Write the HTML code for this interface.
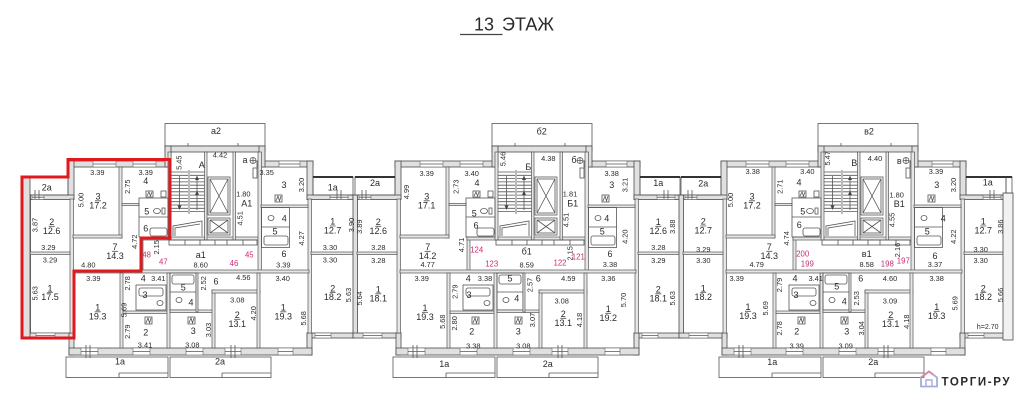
<!DOCTYPE html>
<html><head><meta charset="utf-8">
<style>
html,body{margin:0;padding:0;background:#fff;}
svg{display:block;}
.w{fill:#e0e0e0;stroke:#4a4a4a;stroke-width:.8}
.iw{fill:#e6e6e6;stroke:#555;stroke-width:.7}
.t{fill:none;stroke:#555;stroke-width:.8}
.win{fill:#fff;stroke:#666;stroke-width:.6}
text{font-family:"Liberation Sans",Arial,sans-serif;fill:#2a2a2a;}
.d{font-size:7.4px;text-anchor:middle}
.a{font-size:9px;text-anchor:middle}
.p{font-size:7.8px;text-anchor:middle;fill:#cc2a78}
</style></head>
<body>
<svg width="1024" height="402" viewBox="0 0 1024 402" xmlns="http://www.w3.org/2000/svg">
<defs>
<g id="sec">
 <rect class="t" x="0" y="123.5" width="100" height="22.5"/>
 <path class="t" d="M23 143V150M73 143V150"/>
 <rect class="w" x="0" y="146" width="100" height="6"/>
 <rect class="w" x="-97" y="161" width="103" height="6"/>
 <rect class="w" x="92" y="161" width="56" height="6"/>
 <rect class="w" x="0" y="146" width="6" height="21"/>
 <rect class="w" x="94" y="146" width="6" height="21"/>
 <rect class="w" x="-97" y="161" width="6" height="38"/>
 <rect class="w" x="142" y="161" width="6" height="38"/>
 <rect class="w" x="-139" y="195" width="48" height="4.5"/>
 <rect class="w" x="142" y="195" width="48" height="4.5"/>
 <rect class="w" x="-139" y="195" width="4.5" height="142.5"/>
 <rect class="w" x="-139" y="333" width="48" height="5"/>
 <rect class="w" x="142" y="333" width="48" height="5"/>
 <rect class="w" x="-96" y="333" width="5" height="22"/>
 <rect class="w" x="142" y="333" width="5" height="22"/>
 <rect class="w" x="-96" y="348" width="243" height="7"/>
 <rect class="iw" x="-95" y="199" width="3.5" height="134"/>
 <rect class="iw" x="143" y="199" width="3.5" height="134"/>
 <rect class="iw" x="-135" y="252" width="40" height="2.5"/>
 <rect class="iw" x="146" y="252" width="42" height="2.5"/>
 <rect class="iw" x="-46" y="167" width="3" height="71"/>
 <rect class="iw" x="-92" y="235" width="49" height="3"/>
 <rect class="iw" x="-25" y="237" width="3" height="35"/>
 <rect class="iw" x="-25" y="237" width="121" height="3"/>
 <rect class="iw" x="3" y="152" width="3" height="88"/>
 <rect class="iw" x="39.5" y="152" width="2.5" height="88"/>
 <rect class="iw" x="68" y="152" width="2.5" height="88"/>
 <rect class="iw" x="93" y="152" width="3.5" height="120"/>
 <rect class="iw" x="-92" y="270" width="236" height="3"/>
 <rect class="iw" x="-43" y="203.5" width="17" height="2"/>
 <rect class="t" x="-26" y="198" width="29" height="39"/>
 <path class="t" d="M-26 217H3"/>
 <rect class="iw" x="96" y="205" width="47" height="2.5"/>
 <rect class="t" x="96.5" y="207.5" width="28" height="40"/>
 <path class="t" d="M96.5 227H124.5"/>
 <rect class="iw" x="-45" y="273" width="3" height="75"/>
 <rect class="t" x="-29" y="285" width="30" height="25"/>
 <rect class="iw" x="-42" y="311" width="45" height="2.5"/>
 <rect class="iw" x="2" y="273" width="3" height="75"/>
 <rect class="t" x="5" y="273" width="26" height="37"/>
 <path class="t" d="M5 292H31"/>
 <rect class="iw" x="5" y="310" width="43" height="2.5"/>
 <rect class="iw" x="31" y="273" width="2" height="39"/>
 <rect class="iw" x="47" y="290" width="3" height="58"/>
 <rect class="iw" x="47" y="290" width="48" height="3"/>
 <rect class="iw" x="92" y="273" width="3" height="75"/>
 <g class="win">
  <rect x="-72" y="161" width="23" height="6"/><rect x="-32" y="161" width="23" height="6"/><rect x="114" y="161" width="21" height="6"/>
  <rect x="-133" y="195" width="12" height="4.5"/><rect x="165" y="195" width="18" height="4.5"/>
  <rect x="-84" y="348" width="17" height="7"/><rect x="-32" y="348" width="17" height="7"/><rect x="21" y="348" width="17" height="7"/><rect x="60" y="348" width="16" height="7"/><rect x="113" y="348" width="15" height="7"/>
  <rect x="-129" y="333" width="19" height="5"/><rect x="150" y="333" width="16" height="5"/>
 </g>
 <path class="t" d="M-72 164H-49M-32 164H-9M114 164H135M-133 197.2H-121M165 197.2H183M-84 351.5H-67M-32 351.5H-15M21 351.5H38M60 351.5H76M113 351.5H128M-129 335.5H-110M150 335.5H166"/>
 <path class="t" d="M-79 345V358M-75 345V358M66 345V358M70 345V358"/>
 <rect class="t" x="-137" y="177" width="40" height="18"/>
 <rect x="-137" y="176" width="40" height="2" fill="#333"/>
 <rect class="t" x="148" y="177" width="40" height="18"/>
 <rect x="148" y="176" width="40" height="2" fill="#333"/>
 <path class="t" d="M-130 190V199M-126 190V199M172 190V199M176 190V199"/>
 <rect class="t" x="-99" y="357" width="102" height="20.5"/>
 <rect class="t" x="5" y="357" width="101" height="20.5"/>
 <path class="t" d="M-46 373H3M-46 373V377.5M57 373H106M57 373V377.5"/>
 <path class="t" d="M6 172H23M6 175.3H23M6 178.6H23M6 181.9H23M6 185.2H23M6 188.5H23M6 191.8H23M6 195.1H23M6 198.4H23M6 201.7H23M6 205H23M6 208.3H23M6 211.6H23M25 172H39.5M25 175.3H39.5M25 178.6H39.5M25 181.9H39.5M25 185.2H39.5M25 188.5H39.5M25 191.8H39.5M25 195.1H39.5M25 198.4H39.5M25 201.7H39.5M25 205H39.5M25 208.3H39.5M25 211.6H39.5M24 170V214"/>
 <path class="t" d="M14.5 176V209M32 178V210"/>
 <path d="M12.5 205.5L16.5 205.5L14.5 210Z M30 180L34 180L32 175.5Z M30 195L34 195L32 190.5Z" fill="#444"/>
 <path class="t" d="M8 236V226L37 221V236M10 236V228L35 224"/>
 <rect class="t" x="43" y="177" width="22" height="38"/>
 <rect class="t" x="45" y="179" width="18" height="34"/>
 <path class="t" d="M45 179L63 213M63 179L45 213"/>
 <rect class="t" x="43" y="218" width="22" height="17"/>
 <rect class="t" x="45" y="220" width="18" height="13"/>
 <path class="t" d="M45 220L63 233M63 220L45 233"/>
 <rect class="t" x="4" y="240" width="88" height="5"/>
 <path class="t" d="M20 240V245M35 240V245M50 240V245M62 240V245M78 240V245"/>
 <circle class="t" cx="88" cy="160.5" r="3"/>
 <path class="t" d="M85 160.5H91M88 157.5V163.5"/>
 <rect class="t" x="88" y="168" width="4" height="10"/>
 <rect class="t" x="-19" y="191" width="7" height="6"/>
 <path class="t" d="M-18 196L-16 192L-14.5 196L-13 192"/>
 <rect class="t" x="-4" y="191" width="5" height="6"/>
 <ellipse class="t" cx="-8" cy="211" rx="3.5" ry="2.5"/>
 <rect class="t" x="-3" y="208" width="3" height="6"/>
 <rect class="t" x="-15" y="228" width="17" height="8" rx="2"/>
 <rect class="t" x="110" y="195" width="7" height="7"/>
 <path class="t" d="M111 201L113 196L114.5 201L116 196"/>
 <ellipse class="t" cx="106" cy="218" rx="3" ry="2.5"/>
 <rect class="t" x="99" y="236" width="24" height="9" rx="2"/>
 <rect class="t" x="-26" y="288" width="24" height="8" rx="2"/>
 <ellipse class="t" cx="-5" cy="303" rx="3" ry="2.5"/>
 <rect class="t" x="-20" y="317" width="7" height="7"/>
 <path class="t" d="M-19 323L-17 318L-15.5 323L-14 318"/>
 <rect class="t" x="7" y="275" width="22" height="9" rx="2"/>
 <ellipse class="t" cx="14" cy="300" rx="3" ry="2.5"/>
 <rect class="t" x="23" y="317" width="7" height="7"/>
 <path class="t" d="M24 323L26 318L27.5 323L29 318"/>
</g>
</defs>

<line x1="460" y1="34.5" x2="502.5" y2="34.5" stroke="#444" stroke-width="1.2"/>
<text x="474" y="30.5" font-size="18">13</text>
<text x="502" y="30.5" font-size="18">ЭТАЖ</text>

<use href="#sec" x="165" y="0"/>
<use href="#sec" x="492" y="0"/>
<use href="#sec" x="818" y="0"/>

<rect class="w" x="22" y="177" width="8" height="161"/>
<path class="t" d="M22 177H29"/>
<rect x="1003" y="193" width="10" height="147" fill="#f2f2f2" stroke="#4a4a4a" stroke-width=".8"/>
<rect class="t" x="1006" y="177" width="6" height="16"/>
<rect x="1006" y="176" width="6" height="2" fill="#333"/>

<!-- SECTION A texts -->
<g>
<text class="d" x="97.3" y="175.2">3.39</text>
<text class="d" x="145.7" y="175.2">3.39</text>
<text class="d" x="88.3" y="267.5">4.80</text>
<text class="d" x="48.3" y="249.8">3.29</text>
<text class="d" x="50" y="262.5">3.29</text>
<text class="d" x="93.3" y="280.8">3.39</text>
<text class="d" x="158.3" y="280.8">3.41</text>
<text class="d" x="145" y="347.5">3.41</text>
<text class="d" x="220" y="157.5">4.42</text>
<text class="d" x="243.3" y="196.5">1.80</text>
<text class="d" x="200.7" y="267.5">8.60</text>
<text class="d" x="266.7" y="175.2">3.35</text>
<text class="d" x="283.3" y="267.5">3.39</text>
<text class="d" x="330" y="250.2">3.30</text>
<text class="d" x="330" y="262.5">3.30</text>
<text class="d" x="243.3" y="279.8">4.56</text>
<text class="d" x="192.3" y="347.5">3.08</text>
<text class="d" x="237.3" y="302.5">3.08</text>
<text class="d" x="282.7" y="280.8">3.40</text>

<text class="a" x="46.7" y="190.3">2а</text>
<text class="a" x="145.7" y="184">4</text>
<text class="a" x="146.7" y="214.7">5</text>
<text class="a" x="145.7" y="231.3">6</text>
<text class="a" x="143.3" y="281.3">4</text>
<text class="a" x="145" y="298">3</text>
<text class="a" x="145.7" y="335.7">2</text>
<text class="a" x="120" y="364.7">1а</text>
<text class="a" x="216" y="134">а2</text>
<text class="a" x="201.7" y="168">А</text>
<text class="a" x="245" y="163">а</text>
<text class="a" x="246.7" y="206.3">А1</text>
<text class="a" x="284" y="188">3</text>
<text class="a" x="284.3" y="221.3">4</text>
<text class="a" x="275" y="234.7">5</text>
<text class="a" x="284" y="257">6</text>
<text class="a" x="332.7" y="190.3">1а</text>
<text class="a" x="200.7" y="258">а1</text>
<text class="a" x="183.3" y="290.3">5</text>
<text class="a" x="216" y="284.7">6</text>
<text class="a" x="191" y="305.7">4</text>
<text class="a" x="193.3" y="334">3</text>
<text class="a" x="220" y="364.7">2а</text>

<text class="d" x="127.3" y="189.2" transform="rotate(-90 127.3 186.7)">2.75</text>
<text class="d" x="81" y="202.5" transform="rotate(-90 81 200)">5.00</text>
<text class="d" x="35" y="227.5" transform="rotate(-90 35 225)">3.87</text>
<text class="d" x="134.3" y="244.2" transform="rotate(-90 134.3 241.7)">4.72</text>
<text class="d" x="179" y="165.2" transform="rotate(-90 179 162.7)">5.45</text>
<text class="d" x="156.7" y="249.8" transform="rotate(-90 156.7 247.3)">2.15</text>
<text class="d" x="35" y="295.8" transform="rotate(-90 35 293.3)">5.63</text>
<text class="d" x="127.7" y="285.8" transform="rotate(-90 127.7 283.3)">2.78</text>
<text class="d" x="124" y="312.5" transform="rotate(-90 124 310)">5.69</text>
<text class="d" x="127.7" y="334.2" transform="rotate(-90 127.7 331.7)">2.79</text>
<text class="d" x="240" y="220.8" transform="rotate(-90 240 218.3)">4.51</text>
<text class="d" x="301.7" y="187.5" transform="rotate(-90 301.7 185)">3.20</text>
<text class="d" x="301.7" y="240.8" transform="rotate(-90 301.7 238.3)">4.27</text>
<text class="d" x="351.7" y="227.5" transform="rotate(-90 351.7 225)">3.90</text>
<text class="d" x="203.3" y="285.8" transform="rotate(-90 203.3 283.3)">2.52</text>
<text class="d" x="208.3" y="332.5" transform="rotate(-90 208.3 330)">3.03</text>
<text class="d" x="253.3" y="315.8" transform="rotate(-90 253.3 313.3)">4.20</text>
<text class="d" x="303.3" y="320.8" transform="rotate(-90 303.3 318.3)">5.68</text>
<text class="d" x="348.3" y="297.5" transform="rotate(-90 348.3 295)">5.63</text>

<text class="p" x="146.7" y="257.7">48</text>
<text class="p" x="163.3" y="264.4">47</text>
<text class="p" x="234" y="266">46</text>
<text class="p" x="249.3" y="257.7">45</text>

<text class="a" x="98" y="199.5">3</text><text class="a" x="98" y="208.3">17.2</text>
<text class="a" x="115" y="250">7</text><text class="a" x="115" y="258.8">14.3</text>
<text class="a" x="51.7" y="225">2</text><text class="a" x="51.7" y="233.8">12.6</text>
<text class="a" x="50" y="291.3">1</text><text class="a" x="50" y="300.1">17.5</text>
<text class="a" x="97.7" y="310.5">1</text><text class="a" x="97.7" y="319.3">19.3</text>
<text class="a" x="237.3" y="318">2</text><text class="a" x="237.3" y="326.8">13.1</text>
<text class="a" x="283.3" y="310.5">1</text><text class="a" x="283.3" y="319.3">19.3</text>
<text class="a" x="332.7" y="224.7">1</text><text class="a" x="332.7" y="233.5">12.7</text>
<text class="a" x="332.7" y="291.3">2</text><text class="a" x="332.7" y="300.1">18.2</text>
<path class="t" d="M95 200.8H101M112 251.3H118M48.7 226.3H54.7M47 292.6H53M94.7 311.8H100.7M234.3 319.3H240.3M280.3 311.8H286.3M329.7 226H335.7M329.7 292.6H335.7"/>
</g>

<!-- SECTION Б texts -->
<g>
<text class="d" x="426.7" y="175.8">3.39</text>
<text class="d" x="471.7" y="175.8">3.40</text>
<text class="d" x="427.7" y="266.8">4.77</text>
<text class="d" x="548.3" y="160.8">4.38</text>
<text class="d" x="570" y="196.5">1.81</text>
<text class="d" x="526.7" y="267.5">8.59</text>
<text class="d" x="611.7" y="175.8">3.38</text>
<text class="d" x="610" y="266.8">3.38</text>
<text class="d" x="378.3" y="250.2">3.28</text>
<text class="d" x="378.3" y="263.2">3.28</text>
<text class="d" x="658.3" y="250.2">3.28</text>
<text class="d" x="658.3" y="263.2">3.29</text>
<text class="d" x="421.7" y="280.8">3.39</text>
<text class="d" x="485" y="280.8">3.38</text>
<text class="d" x="473.3" y="348.5">3.38</text>
<text class="d" x="568.3" y="280.8">4.59</text>
<text class="d" x="523.3" y="348.5">3.08</text>
<text class="d" x="561.7" y="303.5">3.08</text>
<text class="d" x="608.3" y="280.8">3.36</text>

<text class="a" x="541.7" y="134.7">б2</text>
<text class="a" x="528.3" y="170">Б</text>
<text class="a" x="574" y="163">б</text>
<text class="a" x="572.7" y="206.3">Б1</text>
<text class="a" x="477" y="186">4</text>
<text class="a" x="474.3" y="216.3">5</text>
<text class="a" x="476" y="228.5">6</text>
<text class="a" x="526.7" y="254.7">б1</text>
<text class="a" x="611.7" y="188">3</text>
<text class="a" x="606.7" y="221.3">4</text>
<text class="a" x="602.3" y="234.7">5</text>
<text class="a" x="610" y="257">6</text>
<text class="a" x="375" y="186">2а</text>
<text class="a" x="658.3" y="186">1а</text>
<text class="a" x="468.3" y="281.3">4</text>
<text class="a" x="469" y="298">3</text>
<text class="a" x="471.7" y="334.7">2</text>
<text class="a" x="510" y="281.3">5</text>
<text class="a" x="516.7" y="301.3">4</text>
<text class="a" x="538.3" y="281.3">6</text>
<text class="a" x="518.3" y="334.7">3</text>
<text class="a" x="444.3" y="366.8">1а</text>
<text class="a" x="547.7" y="366.8">2а</text>

<text class="d" x="503" y="161.5" transform="rotate(-90 503 159)">5.46</text>
<text class="d" x="566" y="222.5" transform="rotate(-90 566 220)">4.51</text>
<text class="d" x="406.7" y="194.5" transform="rotate(-90 406.7 192)">4.99</text>
<text class="d" x="456" y="189.2" transform="rotate(-90 456 186.7)">2.73</text>
<text class="d" x="461.7" y="247.5" transform="rotate(-90 461.7 245)">4.71</text>
<text class="d" x="570" y="255.8" transform="rotate(-90 570 253.3)">2.15</text>
<text class="d" x="625" y="187.5" transform="rotate(-90 625 185)">3.21</text>
<text class="d" x="625" y="239.2" transform="rotate(-90 625 236.7)">4.20</text>
<text class="d" x="359.3" y="229.2" transform="rotate(-90 359.3 226.7)">3.89</text>
<text class="d" x="359.3" y="300.8" transform="rotate(-90 359.3 298.3)">5.64</text>
<text class="d" x="672.7" y="229.2" transform="rotate(-90 672.7 226.7)">3.88</text>
<text class="d" x="672.7" y="300.8" transform="rotate(-90 672.7 298.3)">5.63</text>
<text class="d" x="442.7" y="324.2" transform="rotate(-90 442.7 321.7)">5.68</text>
<text class="d" x="455" y="294.2" transform="rotate(-90 455 291.7)">2.79</text>
<text class="d" x="454.3" y="325.8" transform="rotate(-90 454.3 323.3)">2.80</text>
<text class="d" x="530" y="287.5" transform="rotate(-90 530 285)">2.57</text>
<text class="d" x="532.7" y="322.5" transform="rotate(-90 532.7 320)">3.07</text>
<text class="d" x="579.3" y="322.5" transform="rotate(-90 579.3 320)">4.18</text>
<text class="d" x="623.3" y="302.5" transform="rotate(-90 623.3 300)">5.70</text>

<text class="p" x="476.7" y="252.7">124</text>
<text class="p" x="491.7" y="266.7">123</text>
<text class="p" x="560" y="265.4">122</text>
<text class="p" x="578.3" y="259.4">121</text>

<text class="a" x="426.7" y="199.5">3</text><text class="a" x="426.7" y="208.3">17.1</text>
<text class="a" x="427.7" y="250">7</text><text class="a" x="427.7" y="258.8">14.2</text>
<text class="a" x="378.3" y="225">2</text><text class="a" x="378.3" y="233.8">12.6</text>
<text class="a" x="378.3" y="292.5">1</text><text class="a" x="378.3" y="301.3">18.1</text>
<text class="a" x="425" y="311">1</text><text class="a" x="425" y="319.8">19.3</text>
<text class="a" x="563.3" y="317">2</text><text class="a" x="563.3" y="325.8">13.1</text>
<text class="a" x="608.3" y="312">1</text><text class="a" x="608.3" y="320.8">19.2</text>
<text class="a" x="658.3" y="225">1</text><text class="a" x="658.3" y="233.8">12.6</text>
<text class="a" x="658.3" y="292.5">2</text><text class="a" x="658.3" y="301.3">18.1</text>
<path class="t" d="M423.7 200.8H429.7M424.7 251.3H430.7M375.3 226.3H381.3M375.3 293.8H381.3M422 312.3H428M560.3 318.3H566.3M605.3 313.3H611.3M655.3 226.3H661.3M655.3 293.8H661.3"/>
</g>

<!-- SECTION В texts -->
<g>
<text class="d" x="875" y="160.8">4.40</text>
<text class="d" x="896.7" y="197.5">1.80</text>
<text class="d" x="752.7" y="174.2">3.38</text>
<text class="d" x="807.3" y="174.2">3.40</text>
<text class="d" x="756.7" y="266.8">4.79</text>
<text class="d" x="866.7" y="266.8">8.58</text>
<text class="d" x="936" y="174.2">3.39</text>
<text class="d" x="935" y="266.8">3.37</text>
<text class="d" x="703.3" y="251.8">3.29</text>
<text class="d" x="703.3" y="263.2">3.30</text>
<text class="d" x="980.7" y="251.8">3.30</text>
<text class="d" x="980.7" y="263.2">3.30</text>
<text class="d" x="736.7" y="280.8">3.39</text>
<text class="d" x="815.7" y="280.8">3.41</text>
<text class="d" x="796.7" y="348.5">3.39</text>
<text class="d" x="890" y="280.8">4.60</text>
<text class="d" x="845.7" y="348.5">3.09</text>
<text class="d" x="890" y="303.5">3.09</text>
<text class="d" x="936.7" y="280.8">3.38</text>

<text class="a" x="869" y="134.7">в2</text>
<text class="a" x="854.3" y="166">В</text>
<text class="a" x="899.3" y="164">в</text>
<text class="a" x="899.3" y="207">В1</text>
<text class="a" x="799" y="185.7">4</text>
<text class="a" x="802.7" y="214.7">5</text>
<text class="a" x="799.3" y="228">6</text>
<text class="a" x="866.7" y="257">в1</text>
<text class="a" x="936.7" y="188">3</text>
<text class="a" x="943.3" y="221.3">4</text>
<text class="a" x="927.3" y="234.7">5</text>
<text class="a" x="935" y="259">6</text>
<text class="a" x="703.3" y="186.3">2а</text>
<text class="a" x="987.7" y="185.7">1а</text>
<text class="a" x="795" y="281.3">4</text>
<text class="a" x="796" y="298">3</text>
<text class="a" x="796.7" y="334.7">2</text>
<text class="a" x="836.7" y="289.7">5</text>
<text class="a" x="844.3" y="304.7">4</text>
<text class="a" x="860.7" y="281.3">6</text>
<text class="a" x="846.7" y="334.7">3</text>
<text class="a" x="772.3" y="365.2">1а</text>
<text class="a" x="873.3" y="365.2">2а</text>

<text class="d" x="827.3" y="160.8" transform="rotate(-90 827.3 158.3)">5.47</text>
<text class="d" x="892" y="222.5" transform="rotate(-90 892 220)">4.55</text>
<text class="d" x="730.7" y="202.5" transform="rotate(-90 730.7 200)">5.00</text>
<text class="d" x="780" y="189.2" transform="rotate(-90 780 186.7)">2.71</text>
<text class="d" x="786.7" y="240.8" transform="rotate(-90 786.7 238.3)">4.74</text>
<text class="d" x="897.3" y="252.5" transform="rotate(-90 897.3 250)">2.16</text>
<text class="d" x="953.3" y="187.5" transform="rotate(-90 953.3 185)">3.20</text>
<text class="d" x="953.3" y="239.2" transform="rotate(-90 953.3 236.7)">4.22</text>
<text class="d" x="1000.7" y="229.2" transform="rotate(-90 1000.7 226.7)">3.86</text>
<text class="d" x="1000.7" y="297.5" transform="rotate(-90 1000.7 295)">5.66</text>
<text class="d" x="765.3" y="310.8" transform="rotate(-90 765.3 308.3)">5.69</text>
<text class="d" x="779.3" y="287.5" transform="rotate(-90 779.3 285)">2.79</text>
<text class="d" x="779.3" y="330.8" transform="rotate(-90 779.3 328.3)">2.78</text>
<text class="d" x="856.7" y="300.8" transform="rotate(-90 856.7 298.3)">2.53</text>
<text class="d" x="861.7" y="330.8" transform="rotate(-90 861.7 328.3)">3.04</text>
<text class="d" x="906.7" y="324.2" transform="rotate(-90 906.7 321.7)">4.18</text>
<text class="d" x="955" y="305.8" transform="rotate(-90 955 303.3)">5.69</text>

<text class="p" x="802.7" y="256.7">200</text>
<text class="p" x="807.3" y="266.7">199</text>
<text class="p" x="887.3" y="266.7">198</text>
<text class="p" x="903.3" y="263.4">197</text>

<text class="a" x="752" y="199.5">3</text><text class="a" x="752" y="208.3">17.2</text>
<text class="a" x="769.3" y="250">7</text><text class="a" x="769.3" y="258.8">14.3</text>
<text class="a" x="703.3" y="224.7">2</text><text class="a" x="703.3" y="233.5">12.7</text>
<text class="a" x="703.3" y="291.3">1</text><text class="a" x="703.3" y="300.1">18.2</text>
<text class="a" x="748" y="310">1</text><text class="a" x="748" y="318.8">19.3</text>
<text class="a" x="890.7" y="318">2</text><text class="a" x="890.7" y="326.8">13.1</text>
<text class="a" x="936.7" y="310">1</text><text class="a" x="936.7" y="318.8">19.3</text>
<text class="a" x="983.3" y="224.7">1</text><text class="a" x="983.3" y="233.5">12.7</text>
<text class="a" x="983.3" y="291.3">2</text><text class="a" x="983.3" y="300.1">18.2</text>
<path class="t" d="M749 200.8H755M766.3 251.3H772.3M700.3 226H706.3M700.3 292.6H706.3M745 311.3H751M887.7 319.3H893.7M933.7 311.3H939.7M980.3 226H986.3M980.3 292.6H986.3"/>
<text x="987.7" y="329.2" font-size="7" text-anchor="middle" fill="#2f5fb8">h=2.70</text>
</g>

<polygon points="22,177 68,177 68,159.5 170,159.5 170,238 141,238 141,271 74,271 74,338 22,338" fill="none" stroke="#e0191f" stroke-width="3" stroke-linejoin="miter"/>

<path d="M921 386.5V377.5L929 371.5L937 377.5V386.5Z" fill="none" stroke="#a7acd9" stroke-width="1.8"/>
<path d="M921 377.5L929 371.5L933 374.5" fill="none" stroke="#d98aa0" stroke-width="1.8"/>
<path d="M926 386.5V380H932V386.5" fill="none" stroke="#a7acd9" stroke-width="1.4"/>
<text x="941.5" y="385.5" font-size="11.5" font-weight="bold" fill="#9aa2d4" textLength="68" lengthAdjust="spacing">ТОРГИ-РУ</text>
</svg>
</body></html>
